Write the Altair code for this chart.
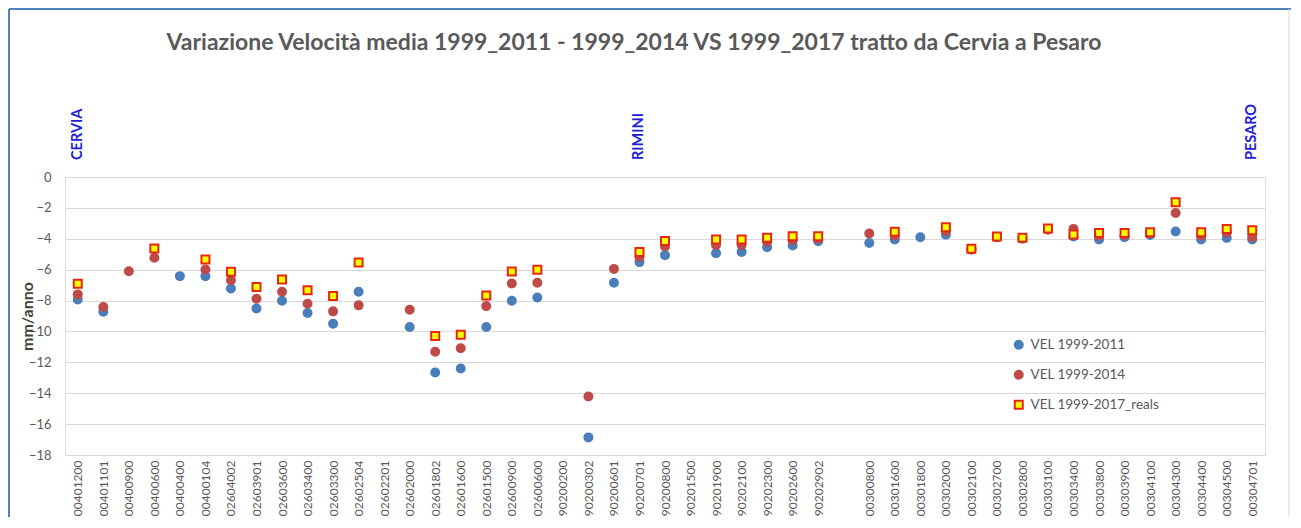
import altair as alt
import pandas as pd

stations = [
    "00401200", "00401101", "00400900", "00400600", "00400400", "00400104",
    "02604002", "02603901", "02603600", "02603400", "02603300", "02602504",
    "02602201", "02602000", "02601802", "02601600", "02601500", "02600900",
    "02600600", "90200200", "90200302", "90200601", "90200701", "90200800",
    "90201500", "90201900", "90202100", "90202300", "90202600", "90202902",
    " ",
    "00300800", "00301600", "00301800", "00302000", "00302100", "00302700",
    "00302800", "00303100", "00303400", "00303800", "00303900", "00304100",
    "00304300", "00304400", "00304500", "00304701",
]

vel_1999_2011 = [
    -7.93, -8.72, None, None, -6.42, -6.42,
    -7.22, -8.51, -8.01, -8.81, -9.50, -7.43,
    None, -9.71, -12.66, -12.40, -9.71, -8.01,
    -7.80, None, -16.86, -6.85, -5.51, -5.06,
    None, -4.93, -4.85, -4.55, -4.44, -4.16,
    None,
    -4.27, -4.05, -3.90, -3.73, -4.70, -3.90,
    -4.00, -3.40, -3.85, -4.05, -3.90, -3.75,
    -3.53, -4.05, -3.94, -4.05,
]

vel_1999_2014 = [
    -7.60, -8.42, -6.10, -5.23, None, -5.99,
    -6.68, -7.88, -7.43, -8.21, -8.70, -8.31,
    None, -8.60, -11.31, -11.09, -8.36, -6.89,
    -6.85, None, -14.21, -5.95, -5.20, -4.50,
    None, -4.40, -4.40, -4.20, -4.10, -4.00,
    None,
    -3.66, -3.80, None, -3.50, -4.70, -3.90,
    -3.95, -3.40, -3.36, -3.80, -3.75, -3.65,
    -2.33, -3.80, -3.60, -3.90,
]

vel_1999_2017 = [
    -6.91, None, None, -4.63, None, -5.34,
    -6.14, -7.13, -6.63, -7.34, -7.71, -5.54,
    None, None, -10.30, -10.21, -7.67, -6.12,
    -6.01, None, None, None, -4.85, -4.14,
    None, -4.05, -4.05, -3.94, -3.83, -3.83,
    None,
    None, -3.55, None, -3.25, -4.65, -3.86,
    -3.94, -3.34, -3.73, -3.62, -3.62, -3.58,
    -1.64, -3.58, -3.36, -3.45,
]

series_names = ["VEL 1999-2011", "VEL 1999-2014", "VEL 1999-2017_reals"]
fill_colors = ["#4A7EBB", "#BE4B48", "#FFFF00"]
stroke_colors = ["#4A7EBB", "#BE4B48", "#E8260E"]
shapes = ["circle", "circle", "square"]
sizes = [64, 64, 150]

city_labels = ["CERVIA", "RIMINI", "PESARO"]
city_stations = ["00401200", "90200701", "00304701"]

y_ticks = [0, -2, -4, -6, -8, -10, -12, -14, -16, -18]
title_text = "Variazione Velocità media 1999_2011 - 1999_2014 VS 1999_2017 tratto da Cervia a Pesaro"
y_title = "mm/anno"

rows = []
for name, vals in zip(series_names, [vel_1999_2011, vel_1999_2014, vel_1999_2017]):
    for st, v in zip(stations, vals):
        if v is not None:
            rows.append({"station": st, "series": name, "value": v})
df = pd.DataFrame(rows)

FONT = "Lato"
GRAY = "#595959"

x_scale = alt.Scale(domain=stations, padding=0.5)
x_enc = alt.X(
    "station:N", scale=x_scale, sort=stations, title=None,
    axis=alt.Axis(labelAngle=-90, labelPadding=5, ticks=False, domain=False,
                  grid=False, labelFontSize=12, labelColor=GRAY, labelFont=FONT,
                  labelOverlap=False),
)
y_enc = alt.Y(
    "value:Q", scale=alt.Scale(domain=[-18, 0], nice=False, zero=False),
    axis=alt.Axis(values=y_ticks, title=y_title, titleFont=FONT, titleFontSize=16,
                  titleFontWeight="bold", titleColor="#404040", titleAngle=270,
                  titleX=-38, titleY=139, titleAlign="center", titleBaseline="middle",
                  labelFontSize=13, labelColor=GRAY, labelFont=FONT, labelPadding=14,
                  ticks=False, tickSize=0, domain=False, grid=True,
                  gridColor="#D9D9D9", gridWidth=1),
)

points = alt.Chart(df).mark_point(filled=True, opacity=1, strokeWidth=2).encode(
    x=x_enc,
    y=y_enc,
    color=alt.Color(
        "series:N", scale=alt.Scale(domain=series_names, range=fill_colors),
        legend=alt.Legend(orient="none", legendX=947, legendY=161, title=None,
                          labelFont=FONT, labelFontSize=13.5, labelColor=GRAY,
                          symbolSize=70, symbolStrokeWidth=2, rowPadding=13,
                          padding=0, labelOffset=5),
    ),
    stroke=alt.Stroke("series:N", scale=alt.Scale(domain=series_names, range=stroke_colors)),
    shape=alt.Shape("series:N", scale=alt.Scale(domain=series_names, range=shapes)),
    size=alt.Size("series:N", scale=alt.Scale(domain=series_names, range=sizes), legend=None),
)

city_df = pd.DataFrame({"station": city_stations, "label": city_labels})
cities = alt.Chart(city_df).mark_text(
    angle=270, align="left", baseline="middle", font=FONT, fontWeight="bold",
    fontSize=14.5, color="#2020D8",
).encode(x=alt.X("station:N", scale=x_scale, sort=stations), y=alt.value(-17), text="label:N")

title_df = pd.DataFrame({"t": [title_text]})
title = alt.Chart(title_df).mark_text(
    font=FONT, fontSize=23, fontWeight="bold", color=GRAY, align="center",
    baseline="alphabetic",
).encode(x=alt.value(569), y=alt.value(-127), text="t:N")

border_df = pd.DataFrame({"k": [0]})
top_rule = alt.Chart(border_df).mark_rule(color="#4F81BD", strokeWidth=2).encode(
    x=alt.value(-56), x2=alt.value(1226), y=alt.value(-168))
left_rule = alt.Chart(border_df).mark_rule(color="#4F81BD", strokeWidth=2).encode(
    x=alt.value(-56), y=alt.value(-168), y2=alt.value(360))
right_rule = alt.Chart(border_df).mark_rule(color="#D9D9D9", strokeWidth=1).encode(
    x=alt.value(1224), y=alt.value(-168), y2=alt.value(360))

chart = alt.layer(top_rule, left_rule, right_rule, title, cities, points).properties(
    width=1200, height=278,
    autosize=alt.AutoSizeParams(type="none"),
    padding={"left": 57, "top": 169, "right": 26, "bottom": 62},
).configure_view(stroke=None).configure(background="white")

chart.save("out.html", embed_options={"renderer": "svg", "actions": False})
